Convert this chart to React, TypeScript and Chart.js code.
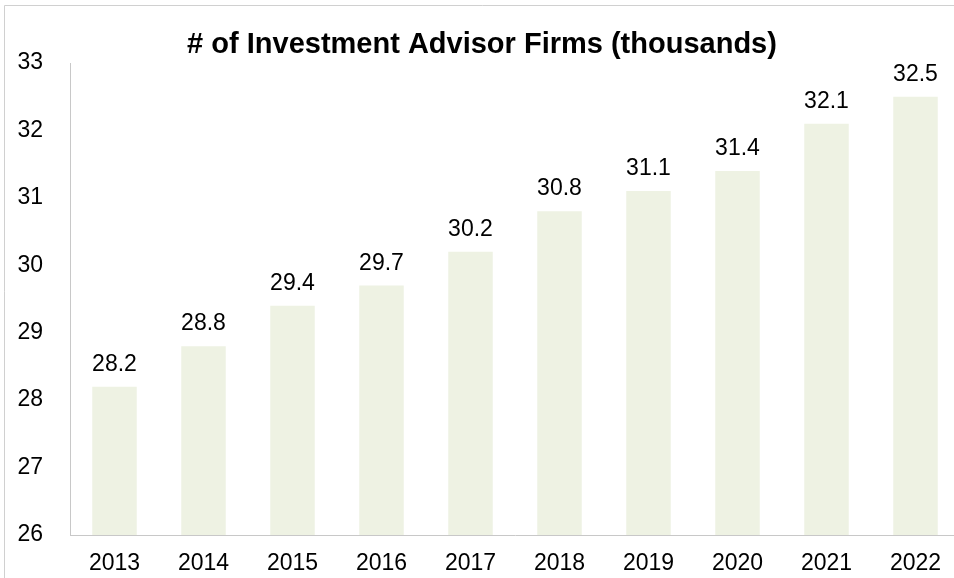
import React, { useEffect, useRef } from "react";
import { Chart, registerables } from "chart.js";

Chart.register(...registerables);

const titleText = "# of Investment Advisor Firms (thousands)";
const years = ["2013", "2014", "2015", "2016", "2017", "2018", "2019", "2020", "2021", "2022"];
const firms = [28.2, 28.8, 29.4, 29.7, 30.2, 30.8, 31.1, 31.4, 32.1, 32.5];
const yMin = 26;
const yMax = 33;

const FONT = "'Liberation Sans', Arial, sans-serif";

const framePlugin = {
  id: "frame",
  beforeDraw(chart: any) {
    const ctx = chart.ctx;
    ctx.save();
    ctx.fillStyle = "#ffffff";
    ctx.fillRect(0, 0, chart.width, chart.height);
    ctx.strokeStyle = "#d0d0d0";
    ctx.lineWidth = 1;
    ctx.beginPath();
    ctx.moveTo(4.5, chart.height);
    ctx.lineTo(4.5, 5.5);
    ctx.lineTo(chart.width, 5.5);
    ctx.stroke();
    ctx.restore();
  },
  afterDraw(chart: any) {
    const ctx = chart.ctx;
    ctx.save();
    ctx.fillStyle = "#000000";
    ctx.font = `bold 29px ${FONT}`;
    ctx.textAlign = "center";
    ctx.textBaseline = "alphabetic";
    ctx.fillText(titleText, 482, 53);
    ctx.font = `23px ${FONT}`;
    const meta = chart.getDatasetMeta(0);
    meta.data.forEach((bar: any, i: number) => {
      ctx.fillText(firms[i].toFixed(1), bar.x, bar.y - 16);
    });
    ctx.restore();
  },
};

export default function App() {
  const ref = useRef<HTMLCanvasElement>(null);
  useEffect(() => {
    if (!ref.current) return;
    const chart = new Chart(ref.current, {
      type: "bar",
      data: {
        labels: years,
        datasets: [
          {
            data: firms,
            backgroundColor: "#EEF2E3",
            borderWidth: 0,
            categoryPercentage: 1,
            barPercentage: 0.5,
          },
        ],
      },
      options: {
        responsive: false,
        animation: false,
        devicePixelRatio: 1,
        layout: { padding: { top: 63, left: 0, right: 0, bottom: 0 } },
        plugins: {
          legend: { display: false },
          title: { display: false },
          tooltip: { enabled: false },
        },
        scales: {
          x: {
            grid: { display: false, drawTicks: false },
            border: { display: true, color: "#c8c8c8", width: 1 },
            ticks: { color: "#000", font: { family: FONT, size: 23 }, padding: 15, maxRotation: 0 },
            afterFit(scale: any) {
              scale.height = 43;
            },
          },
          y: {
            min: yMin,
            max: yMax,
            grid: { display: false, drawTicks: false },
            border: { display: true, color: "#c8c8c8", width: 1 },
            ticks: { stepSize: 1, color: "#000", font: { family: FONT, size: 23 }, padding: 27 },
            afterFit(scale: any) {
              scale.width = 70;
            },
          },
        },
      },
      plugins: [framePlugin],
    });
    return () => chart.destroy();
  }, []);
  return (
    <div style={{ position: "fixed", left: 0, top: 0, width: 954, height: 578, overflow: "hidden", background: "#fff" }}>
      <canvas ref={ref} width={960} height={578} style={{ display: "block" }} />
    </div>
  );
}
